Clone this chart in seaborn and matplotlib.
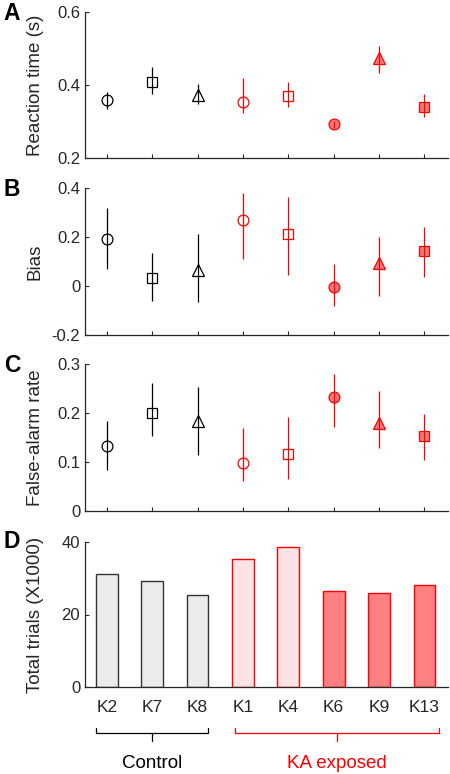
import numpy as np
import pandas as pd
import matplotlib
matplotlib.use("Agg")
import matplotlib.pyplot as plt
import matplotlib.transforms as mtransforms
import seaborn as sns

# animals and groups
animals = ["K2", "K7", "K8", "K1", "K4", "K6", "K9", "K13"]
groups = ["Control", "Control", "Control", "KA", "KA", "KA", "KA", "KA"]
markers = ["o", "s", "^", "o", "s", "o", "^", "s"]
filled = [False, False, False, False, False, True, True, True]

# reaction time (s): mean, lower, upper
rt_mean = [0.359, 0.409, 0.373, 0.353, 0.371, 0.292, 0.475, 0.339]
rt_lo = [0.334, 0.375, 0.348, 0.323, 0.341, 0.282, 0.432, 0.312]
rt_hi = [0.380, 0.450, 0.403, 0.419, 0.409, 0.302, 0.507, 0.375]

# bias
bias_mean = [0.193, 0.031, 0.065, 0.271, 0.213, -0.003, 0.092, 0.142]
bias_lo = [0.071, -0.061, -0.065, 0.109, 0.043, -0.081, -0.041, 0.038]
bias_hi = [0.319, 0.136, 0.214, 0.380, 0.363, 0.088, 0.200, 0.240]

# false-alarm rate
fa_mean = [0.133, 0.200, 0.184, 0.097, 0.116, 0.232, 0.179, 0.153]
fa_lo = [0.083, 0.153, 0.114, 0.061, 0.066, 0.172, 0.128, 0.104]
fa_hi = [0.184, 0.261, 0.254, 0.169, 0.191, 0.280, 0.245, 0.198]

# total trials (x1000)
trials = [31.3, 29.3, 25.4, 35.4, 38.6, 26.6, 25.8, 28.1]

bar_faces = ["#ebebeb", "#ebebeb", "#ebebeb", "#fde3e3", "#fde3e3",
             "#ff8080", "#ff8080", "#ff8080"]

sns.set_theme(style="white")
plt.rcParams["font.family"] = ["Liberation Sans", "DejaVu Sans"]
txt = "#262626"
plt.rcParams.update({
    "axes.edgecolor": txt, "axes.linewidth": 0.9,
    "xtick.color": txt, "ytick.color": txt,
    "xtick.labelcolor": txt, "ytick.labelcolor": txt,
    "axes.labelcolor": txt, "text.color": txt,
    "xtick.direction": "in", "ytick.direction": "in",
    "xtick.major.size": 3, "ytick.major.size": 3,
    "xtick.major.width": 0.8, "ytick.major.width": 0.8,
    "xtick.bottom": True, "ytick.left": True,
})

fig = plt.figure(figsize=(4.5, 7.74), dpi=100)
W, H = 450, 774
left, right = 85, 448
tick_fs = 12
label_fs = 13.5


def make_ax(top_px, bot_px):
    return fig.add_axes([left / W, 1 - bot_px / H, (right - left) / W, (bot_px - top_px) / H])


axA = make_ax(12, 158)
axB = make_ax(188, 335)
axC = make_ax(364, 511)
axD = make_ax(542, 687)

colors = ["black" if g == "Control" else "red" for g in groups]
fill_col = "#f47a7a"
x = np.arange(len(animals))


def point_panel(ax, mean, lo, hi, ylim, yticks, yticklabels, ylabel):
    for i in range(len(animals)):
        c = colors[i]
        ms = {"o": 7.8, "s": 6.5, "^": 9}[markers[i]]
        fc = fill_col if filled[i] else "none"
        ax.plot(x[i], mean[i], marker=markers[i], ms=ms, mfc=fc, mec=c,
                mew=0.9, ls="none", zorder=2)
        ax.vlines(x[i], lo[i], hi[i], color=c, lw=0.9, zorder=3)
    ax.set_xlim(-0.48, 7.52)
    ax.set_ylim(*ylim)
    ax.set_yticks(yticks)
    ax.set_yticklabels(yticklabels, fontsize=tick_fs)
    ax.set_xticks(x)
    ax.set_xticklabels([])
    ax.set_ylabel(ylabel, fontsize=label_fs)
    sns.despine(ax=ax)


point_panel(axA, rt_mean, rt_lo, rt_hi, (0.2, 0.6), [0.2, 0.4, 0.6],
            ["0.2", "0.4", "0.6"], "Reaction time (s)")
point_panel(axB, bias_mean, bias_lo, bias_hi, (-0.2, 0.4), [-0.2, 0, 0.2, 0.4],
            ["-0.2", "0", "0.2", "0.4"], "Bias")
point_panel(axC, fa_mean, fa_lo, fa_hi, (0, 0.3), [0, 0.1, 0.2, 0.3],
            ["0", "0.1", "0.2", "0.3"], "False-alarm rate")

df = pd.DataFrame({"animal": animals, "trials": trials})
sns.barplot(data=df, x="animal", y="trials", ax=axD, width=0.48,
            palette=bar_faces, hue="animal", legend=False, saturation=1)
edge_cols = ["#333333" if g == "Control" else "red" for g in groups]
for patch, ec in zip(axD.patches, edge_cols):
    patch.set_edgecolor(ec)
    patch.set_linewidth(1.0)
axD.set_xlim(-0.48, 7.52)
axD.set_ylim(0, 40)
axD.set_yticks([0, 20, 40])
axD.set_yticklabels(["0", "20", "40"], fontsize=tick_fs)
axD.set_xticks(x)
axD.set_xticklabels(animals, fontsize=12.5)
axD.tick_params(axis="x", pad=9)
axD.set_xlabel("")
axD.set_ylabel("Total trials (X1000)", fontsize=label_fs)
sns.despine(ax=axD)

for ax in (axA, axB, axC, axD):
    ax.yaxis.set_label_coords(-0.113, 0.5)

# group brackets
trans = mtransforms.blended_transform_factory(axD.transData, axD.transAxes)
brackets = [(-0.23, 2.24, 1.0, "Control", "black"),
            (2.82, 7.33, 5.07, "KA exposed", "red")]
for x0, x1, xm, label, c in brackets:
    axD.plot([x0, x0, x1, x1], [-0.28, -0.32, -0.32, -0.28], color=c, lw=0.9,
             transform=trans, clip_on=False)
    axD.plot([xm, xm], [-0.32, -0.37], color=c, lw=0.9, transform=trans,
             clip_on=False)
    axD.text(xm, -0.53, label, color=c, fontsize=13.5, ha="center", va="center",
             transform=trans)

# panel letters
for letter, ypx in [("A", 13), ("B", 190), ("C", 366), ("D", 542)]:
    fig.text(12 / W, 1 - ypx / H, letter, fontsize=16.5, fontweight="bold",
             ha="center", va="center", color="black")

fig.savefig("out.png", dpi=100)
